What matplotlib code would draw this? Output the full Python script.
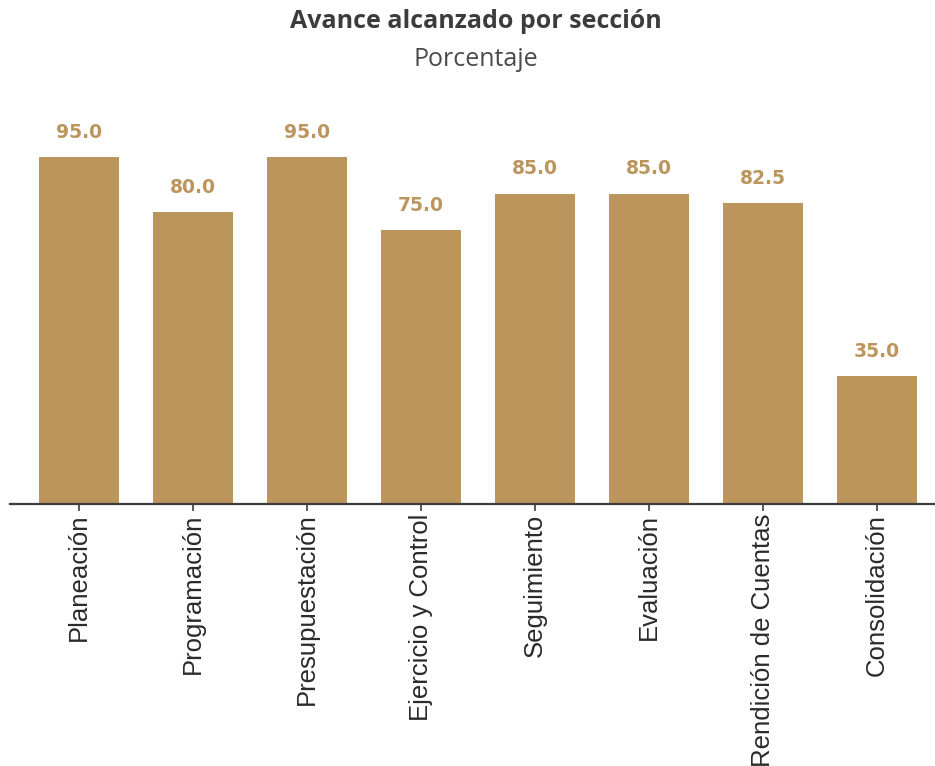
import numpy as np
import matplotlib
matplotlib.use("Agg")
import matplotlib.pyplot as plt

categories = ["Planeación", "Programación", "Presupuestación", "Ejercicio y Control",
              "Seguimiento", "Evaluación", "Rendición de Cuentas", "Consolidación"]
values = [95.0, 80.0, 95.0, 75.0, 85.0, 85.0, 82.5, 35.0]

GOLD = "#BC955C"
DARK = "#3C3C3C"

fig = plt.figure(figsize=(9.35, 7.66), dpi=100)
# axes: x from 10 px to 935 px, y from 139 px to 504 px (top-down)
ax = fig.add_axes([10 / 935, 1 - 504 / 766, 925 / 935, 365 / 766])

x = np.arange(len(categories))
ax.bar(x, values, width=0.7, color=GOLD, zorder=2)

for xi, v in zip(x, values):
    ax.annotate(f"{v:.1f}", (xi, v), xytext=(0, 11), textcoords="offset points",
                ha="center", va="bottom", color=GOLD, fontsize=13.5, fontweight="bold",
                family="DejaVu Sans")

ax.set_xlim(-0.605, 7.51)
ax.set_ylim(0, 100)
ax.set_xticks(x)
ax.set_xticklabels(categories, rotation=90, fontsize=18.5, color="#2A2A2A",
                   family="Liberation Sans")
ax.tick_params(axis="x", length=5, width=1.2, color=DARK, pad=2)
ax.set_yticks([])
for side in ["top", "right", "left"]:
    ax.spines[side].set_visible(False)
ax.spines["bottom"].set_color(DARK)
ax.spines["bottom"].set_linewidth(1.6)

fig.text(0.509, 1 - 22 / 766, "Avance alcanzado por sección", ha="center", va="center",
         fontsize=18, fontweight="bold", color=DARK, family="Open Sans")
fig.text(0.509, 1 - 60 / 766, "Porcentaje", ha="center", va="center",
         fontsize=18, color="#4A4A4A", family="Open Sans")

fig.savefig("out.png", dpi=100, facecolor="white")
